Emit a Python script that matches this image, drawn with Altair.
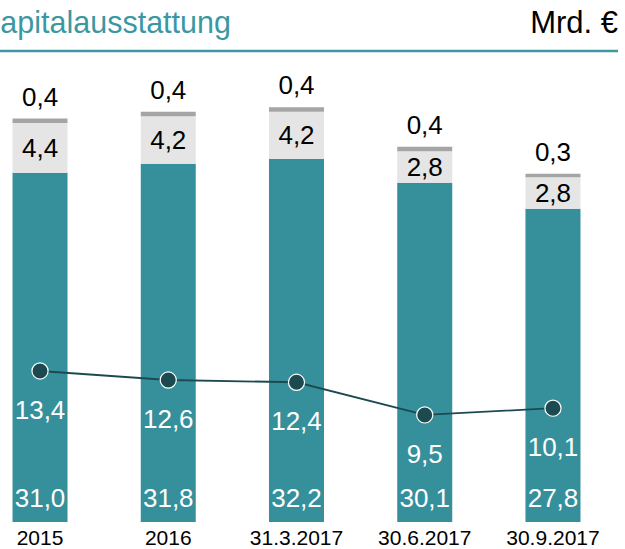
import altair as alt
import pandas as pd

categories = ["2015", "2016", "31.3.2017", "30.6.2017", "30.9.2017"]
equity = [31.0, 31.8, 32.2, 30.1, 27.8]
middle = [4.4, 4.2, 4.2, 2.8, 2.8]
top = [0.4, 0.4, 0.4, 0.4, 0.3]
line_vals = [13.4, 12.6, 12.4, 9.5, 10.1]

segments = ["equity", "middle", "top"]
seg_colors = ["#35909c", "#e5e5e5", "#a5a5a5"]

rows = []
for i, c in enumerate(categories):
    for k, (seg, vals) in enumerate(zip(segments, [equity, middle, top])):
        rows.append({"cat": c, "seg": seg, "ord": k, "value": vals[i]})
bars_df = pd.DataFrame(rows)
line_df = pd.DataFrame({"cat": categories, "value": line_vals})

FONT = "Liberation Sans"
TEAL_TITLE = "#3a98a3"

x_enc = alt.X(
    "cat:N",
    sort=categories,
    scale=alt.Scale(range=[-24.1, 617.1], paddingInner=0, paddingOuter=0),
    axis=alt.Axis(
        title=None, domain=False, ticks=False, grid=False, labelAngle=0,
        labelFontSize=21, labelColor="#000000", labelFont=FONT, labelPadding=5,
    ),
)
y_scale = alt.Scale(domain=[0, 46.32], nice=False, zero=True)

base = alt.Chart(bars_df).transform_stack(
    stack="value", groupby=["cat"], as_=["y0", "y1"],
    sort=[alt.SortField("ord", order="ascending")],
).transform_calculate(
    label="replace(format(datum.value, '.1f'), '.', ',')",
    mid="(datum.y0 + datum.y1) / 2",
)

bars = base.mark_bar(size=55).encode(
    x=x_enc,
    y=alt.Y("y0:Q", scale=y_scale, axis=None),
    y2="y1:Q",
    color=alt.Color("seg:N", scale=alt.Scale(domain=segments, range=seg_colors), legend=None),
)

eq_labels = base.transform_filter("datum.seg == 'equity'").mark_text(
    fontSize=26, font=FONT, color="#ffffff", baseline="alphabetic", dy=-15
).encode(x=x_enc, y=alt.Y("y0:Q", scale=y_scale), text="label:N")

mid_labels = base.transform_filter("datum.seg == 'middle'").mark_text(
    fontSize=26, font=FONT, color="#000000", baseline="middle", dy=1
).encode(x=x_enc, y=alt.Y("mid:Q", scale=y_scale), text="label:N")

top_labels = base.transform_filter("datum.seg == 'top'").mark_text(
    fontSize=26, font=FONT, color="#000000", baseline="alphabetic", dy=-13
).encode(x=x_enc, y=alt.Y("y1:Q", scale=y_scale), text="label:N")

line_base = alt.Chart(line_df).transform_calculate(
    label="replace(format(datum.value, '.1f'), '.', ',')"
)
line = line_base.mark_line(color="#1d4a50", strokeWidth=1.8).encode(
    x=x_enc, y=alt.Y("value:Q", scale=y_scale)
)
points = line_base.mark_point(
    filled=True, fill="#1d4a50", stroke="#ffffff", strokeWidth=1.2, size=260, opacity=1,
    shape="circle",
).encode(x=x_enc, y=alt.Y("value:Q", scale=y_scale))
line_labels = line_base.mark_text(
    fontSize=26, font=FONT, color="#ffffff", baseline="alphabetic", dy=48
).encode(x=x_enc, y=alt.Y("value:Q", scale=y_scale), text="label:N")

title_df = pd.DataFrame({"t": ["Kapitalausstattung"]})
title = alt.Chart(title_df).mark_text(
    fontSize=30.5, font=FONT, color=TEAL_TITLE, align="left", baseline="alphabetic"
).encode(x=alt.value(-20), y=alt.value(33), text="t:N")

unit_df = pd.DataFrame({"t": ["Mrd. €"]})
unit = alt.Chart(unit_df).mark_text(
    fontSize=31, font=FONT, color="#000000", align="right", baseline="alphabetic"
).encode(x=alt.value(618), y=alt.value(33), text="t:N")

rule = alt.Chart(title_df).mark_rule(color="#3d9aa5", strokeWidth=2.5).encode(
    x=alt.value(0), x2=alt.value(618), y=alt.value(51)
)

chart = alt.layer(
    bars, eq_labels, mid_labels, top_labels, line, points, line_labels, title, unit, rule
).properties(
    width=625, height=522,
    background="#ffffff",
    autosize=alt.AutoSizeParams(type="none"),
    padding={"left": 0, "top": 0, "right": 0, "bottom": 27},
).configure_view(stroke=None)

chart.save("out.html", embed_options={"renderer": "svg", "actions": False})
